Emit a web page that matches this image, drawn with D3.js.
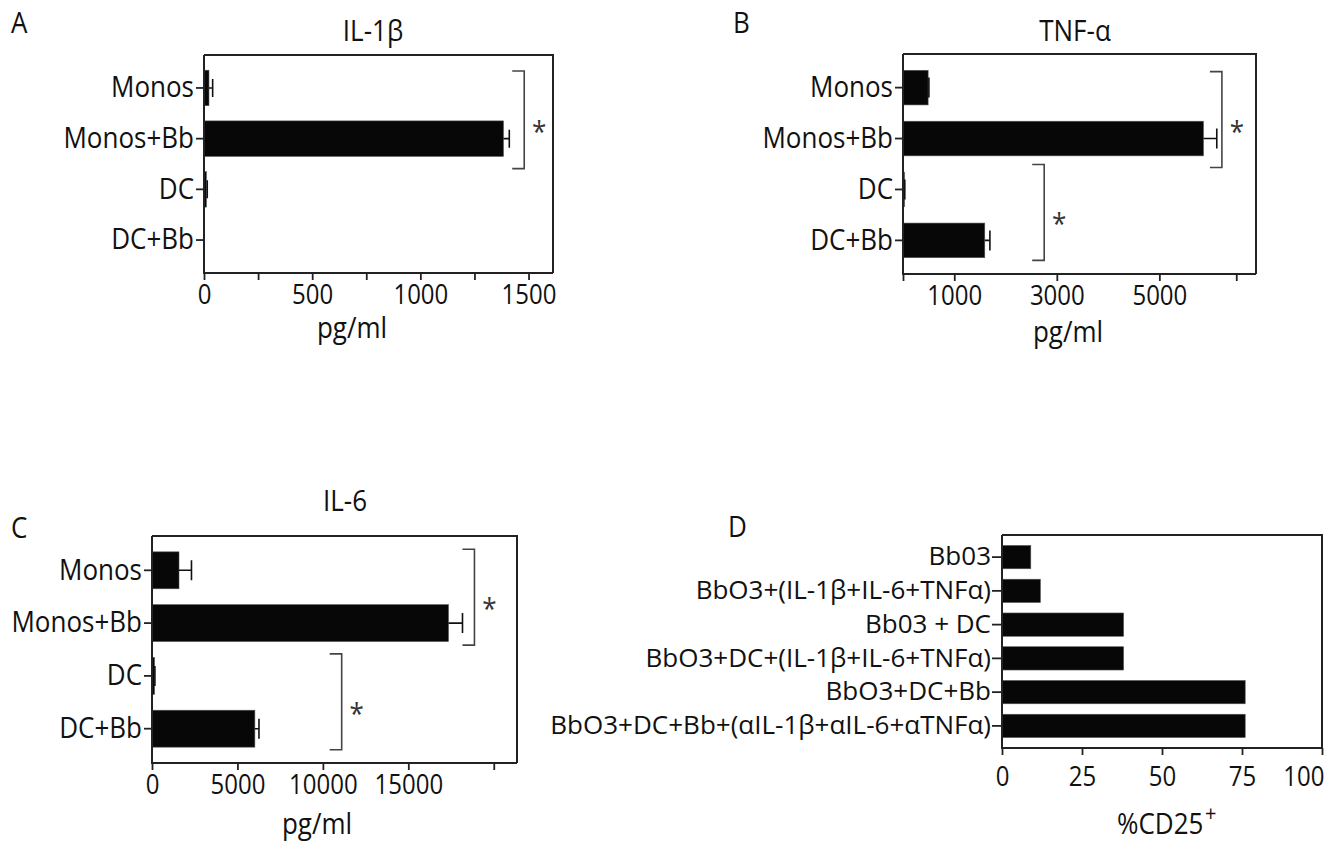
<!DOCTYPE html>
<html>
<head>
<meta charset="utf-8">
<script src="https://cdn.jsdelivr.net/npm/d3@7"></script>
<style>
  body { margin: 0; background: #fff; }
  svg text { font-family: "Open Sans", "Noto Sans", sans-serif; fill: #111; }
</style>
</head>
<body>
<div id="chart-area"></div>
<script>
// cytokine panels share the same four groups
const cytoCats = ["Monos", "Monos+Bb", "DC", "DC+Bb"];

const il1bMean = [23, 1384, 11, 0];
const il1bErr = [17, 27, 4, 0];
const il1bTicks = [0, 250, 500, 750, 1000, 1250, 1500];
const il1bTickLabels = ["0", "", "500", "", "1000", "", "1500"];
const il1bSig = [["Monos", "Monos+Bb", 1480]];

const tnfMean = [490, 5860, 30, 1595];
const tnfErr = [15, 260, 5, 100];
const tnfTicks = [0, 1000, 3000, 5000, 6500];
const tnfTickLabels = ["", "1000", "3000", "5000", ""];
const tnfSig = [["Monos", "Monos+Bb", 6220], ["DC", "DC+Bb", 2754]];

const il6Mean = [1580, 17350, 150, 6020];
const il6Err = [730, 820, 20, 240];
const il6Ticks = [0, 5000, 10000, 15000, 20000];
const il6TickLabels = ["0", "5000", "10000", "15000", ""];
const il6Sig = [["Monos", "Monos+Bb", 18870], ["DC", "DC+Bb", 11100]];

const cd25Cats = ["Bb03", "BbO3+(IL-1β+IL-6+TNFα)", "Bb03 + DC",
    "BbO3+DC+(IL-1β+IL-6+TNFα)", "BbO3+DC+Bb", "BbO3+DC+Bb+(αIL-1β+αIL-6+αTNFα)"];
const cd25Pct = [9, 12, 38, 38, 76, 76];
const cd25Ticks = [0, 25, 50, 75, 100];

const K = 1.12; // the original lettering is a bit taller than Open Sans

const svg = d3.select("#chart-area").append("svg")
    .attr("width", 1339)
    .attr("height", 844);

putText = (g, x, y, str, size, anchor) => {
    return g.append("text")
        .attr("transform", `translate(${x},${y}) scale(1,${K})`)
        .attr("text-anchor", anchor || "start")
        .style("font-size", size + "px")
        .text(str);
};

drawPanel = (p) => {
    const g = svg.append("g");
    const x = d3.scaleLinear().domain([0, p.xMax]).range([p.left, p.right]);
    const y = d3.scaleBand().domain(p.cats).range([p.top, p.bottom]).padding(p.pad);
    const cy = (c) => y(c) + y.bandwidth() / 2;

    // frame: top and right lines
    g.append("path")
        .attr("d", `M${p.left},${p.top}H${p.right}V${p.bottom}`)
        .attr("fill", "none")
        .attr("stroke", "#222")
        .attr("stroke-width", 2);

    // bars
    g.selectAll(".bar")
        .data(p.values)
        .enter()
        .append("rect")
        .attr("x", x(0))
        .attr("y", (d, i) => y(p.cats[i]))
        .attr("width", (d) => x(d) - x(0))
        .attr("height", y.bandwidth())
        .attr("fill", "#070707")
        .attr("stroke", "#555")
        .attr("stroke-width", 0.6);

    // error bars (right side only)
    if (p.errors) {
        p.values.forEach((v, i) => {
            const e = p.errors[i];
            if (!e) return;
            const yc = cy(p.cats[i]);
            g.append("path")
                .attr("d", `M${x(v)},${yc}H${x(v + e)}M${x(v + e)},${yc - p.capH}V${yc + p.capH}`)
                .attr("fill", "none")
                .attr("stroke", "#111")
                .attr("stroke-width", 1.6);
        });
    }

    // significance brackets
    (p.sig || []).forEach((s, i) => {
        const bx = x(s[2]);
        const y0 = cy(s[0]) + p.sigSpan[i][0];
        const y1 = cy(s[1]) + p.sigSpan[i][1];
        g.append("path")
            .attr("d", `M${bx - 12},${y0}H${bx}V${y1}H${bx - 12}`)
            .attr("fill", "none")
            .attr("stroke", "#444")
            .attr("stroke-width", 1.6);
        putText(g, bx + 15, (y0 + y1) / 2 + 22, "*", 26, "middle")
            .style("fill", "#333");
    });

    // axes
    const xAxis = d3.axisBottom(x)
        .tickValues(p.ticks)
        .tickFormat((d, i) => p.tickLabels ? p.tickLabels[i] : d)
        .tickSize(7)
        .tickSizeOuter(0)
        .tickPadding(p.xPad);
    const gx = g.append("g")
        .attr("transform", `translate(0,${p.bottom})`)
        .call(xAxis);
    gx.selectAll("text")
        .style("font-size", "24px")
        .attr("y", (7 + p.xPad) / K)
        .attr("transform", `scale(1,${K})`);
    if (p.lastTickEnd) {
        // last label pulled inside so it stays on the page
        gx.selectAll(".tick:last-of-type text")
            .attr("text-anchor", "end")
            .attr("x", p.lastTickEnd);
    }

    const yAxis = d3.axisLeft(y)
        .tickSize(p.yTick)
        .tickSizeOuter(0)
        .tickPadding(p.yPad);
    const gy = g.append("g")
        .attr("transform", `translate(${p.left},0)`)
        .call(yAxis);
    gy.selectAll("text")
        .style("font-size", "26px")
        .attr("transform", p.flatLabels ? null : `scale(1,${K})`);

    [gx, gy].forEach((a) => {
        a.select(".domain").attr("stroke", "#222").attr("stroke-width", 2);
        a.selectAll(".tick line").attr("stroke", "#222").attr("stroke-width", 1.8);
    });
    gy.select(".domain").attr("d", `M0,${p.top}V${p.bottom + 1}`);
    gx.select(".domain").attr("d", `M${p.left - 1},0H${p.right}`);

    // panel letter, title, axis title
    putText(g, p.letterX, p.letterY, p.letter, 26);
    if (p.title) putText(g, p.titleX, p.titleY, p.title, 26, "middle");
    putText(g, p.xTitleX, p.xTitleY, p.xTitle, 26, p.xTitleSup ? "start" : "middle");
    if (p.xTitleSup) {
        putText(g, p.supX, p.xTitleY - 13, p.xTitleSup, 20);
    }
};

drawPanel({
    letter: "A", letterX: 11, letterY: 33,
    title: "IL-1β", titleX: 373, titleY: 41,
    cats: cytoCats, values: il1bMean, errors: il1bErr,
    ticks: il1bTicks, tickLabels: il1bTickLabels, xMax: 1613,
    sig: il1bSig, sigSpan: [[-17, 30]],
    left: 204, right: 553, top: 55, bottom: 273, pad: 0.3,
    capH: 9, xPad: 5, yTick: 8, yPad: 2,
    xTitle: "pg/ml", xTitleX: 352, xTitleY: 338
});

drawPanel({
    letter: "B", letterX: 733, letterY: 33,
    title: "TNF-α", titleX: 1075, titleY: 41,
    cats: cytoCats, values: tnfMean, errors: tnfErr,
    ticks: tnfTicks, tickLabels: tnfTickLabels, xMax: 6885,
    sig: tnfSig, sigSpan: [[-16, 29], [-25, 20]],
    left: 903, right: 1256, top: 54, bottom: 274, pad: 0.32,
    capH: 10, xPad: 5, yTick: 8, yPad: 2,
    xTitle: "pg/ml", xTitleX: 1068, xTitleY: 342
});

drawPanel({
    letter: "C", letterX: 11, letterY: 538,
    title: "IL-6", titleX: 345, titleY: 511,
    cats: cytoCats, values: il6Mean, errors: il6Err,
    ticks: il6Ticks, tickLabels: il6TickLabels, xMax: 21360,
    sig: il6Sig, sigSpan: [[-21, 22], [-22, 21]],
    left: 152, right: 517, top: 536, bottom: 763, pad: 0.3,
    capH: 10, xPad: 5, yTick: 8, yPad: 2,
    xTitle: "pg/ml", xTitleX: 317, xTitleY: 834
});

drawPanel({
    letter: "D", letterX: 728, letterY: 537,
    cats: cd25Cats, values: cd25Pct,
    ticks: cd25Ticks, xMax: 100, lastTickEnd: 2, flatLabels: true,
    left: 1002, right: 1322, top: 535, bottom: 748, pad: 0.31,
    xPad: 12, yTick: 10, yPad: 1,
    xTitle: "%CD25", xTitleSup: "+", xTitleX: 1117, xTitleY: 834, supX: 1205
});
</script>
</body>
</html>
